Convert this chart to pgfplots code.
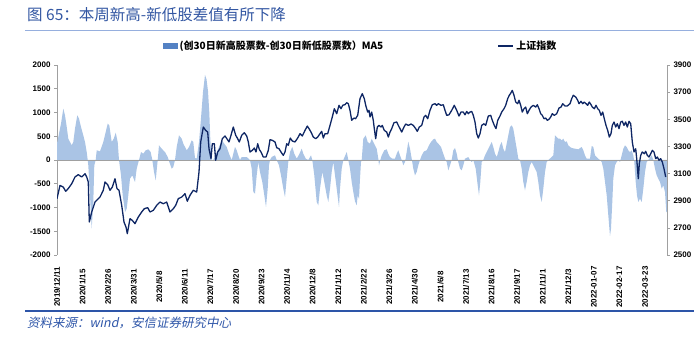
\documentclass[border=0pt]{standalone}
\usepackage{pgfplots}
\pgfplotsset{compat=1.18}
\usepackage{pgfplotstable}
\usepackage{fontspec}
\setmainfont{Liberation Sans}
\newfontfamily\cjk{Noto Sans CJK SC}
\newfontfamily\cjkit[FakeSlant=0.2]{Noto Sans CJK SC}
\definecolor{barblue}{RGB}{170,196,229}
\definecolor{legbar}{RGB}{84,130,196}
\definecolor{linecol}{RGB}{14,38,100}
\definecolor{axgray}{RGB}{160,160,160}
\definecolor{titleblue}{RGB}{50,86,162}
\definecolor{ruleblue}{RGB}{150,175,222}
\definecolor{botrule}{RGB}{45,85,168}

\pgfplotstableread{
x v
0 350
1.3 484
4 765
6.3 1080
8 940
9.7 700
11.3 449
13 379
14.7 309
16.3 379
18 660
20.3 940
22 870
24 695
26.3 519
28 379
29.7 168
30.7 0
31.3 -112
33 -744
34.7 -1445
36.3 -884
37.3 -112
38.7 0
39.7 204
43 182
46.3 379
48.7 589
50.7 765
52.3 730
54.7 379
56.7 449
58.7 575
60.7 379
62 0
64 -323
65.7 -744
68 -1095
69.7 -1025
71.3 -744
73 -393
75.3 -323
78 -463
79.7 -183
82 0
84 168
86.3 133
88.7 204
91.3 225
93.7 168
95.3 0
97 -253
98.7 -428
100.7 0
102 309
104.7 238
108 168
110.7 63
112.3 -42
114.7 -183
116.3 -147
118 0
119.7 274
122 519
124.7 449
126.3 344
129.7 204
132 274
134.7 414
136.3 379
138 40
139.7 30
142 379
143.7 800
146 1431
148 1790
149.5 1700
151 1450
152.3 1000
153.3 449
154.7 0
156.3 0
161.3 238
164.7 414
167.3 344
169.7 274
172 133
174.7 0
178 274
179.7 204
181.3 98
183 0
184.7 63
189.7 63
193 0
194.7 -183
196.3 -674
198 -709
199.7 -323
201.3 -42
203 -253
205.3 -463
207.3 -744
209 -989
210.7 -604
212 -112
213 0
214.7 63
218 98
219.7 0
222 -112
224 -323
226.3 -604
228 -779
229.7 -393
231.3 -42
233 168
235.3 274
237.3 133
239.7 28
242 112
244.7 238
246.3 133
248.7 28
251.3 0
254 98
255.3 0
257.3 -323
259.7 -884
261.3 -954
263 -604
265.3 -253
267.3 -463
269.7 -744
271.3 -884
273 -604
274.7 -253
276.3 -42
278 -323
279.7 -604
282 -989
283 -604
284.7 -183
286.3 0
289.7 168
291.3 0
293 -183
294.7 -463
296.3 -674
298 -870
299.7 -954
300.7 -744
302 -814
303 -393
304 -42
304.7 0
306.3 449
308.7 519
310.7 379
313 344
314.7 449
316.3 379
318 309
319.7 238
321.3 28
322 -112
323.3 0
324.7 98
327.3 204
329.7 225
331.3 133
333 63
335.3 28
338 28
339.7 133
341.3 204
343 98
344.7 0
346.3 -112
348 -42
349.7 168
351.3 386
353 238
354.7 28
356.3 -183
358 -323
359.7 -253
361.3 -112
363 0
364.7 98
367 182
369.7 204
372 309
374 379
376.3 435
378 449
379.7 379
381.3 344
384 274
386.3 133
388 28
389.7 -42
391.3 -218
393 -112
394.7 0
396.3 204
398 253
399.7 133
401.3 -42
403 -183
404.7 -218
406.3 -112
408 28
411.3 63
413 0
414.7 -42
416.3 0
418.7 -183
420.7 -533
422 -744
423.3 -463
424.7 -42
426.3 0
428 98
429.7 168
431.3 238
433 309
434.7 379
436.3 274
438 133
439.7 63
441.3 168
443 309
444.7 379
446.3 238
448 168
449.7 344
451.3 519
453 695
454.7 730
456.3 660
458 449
459.7 238
461.3 28
463 0
464.7 -183
466.3 -463
468 -639
469.7 -463
471.3 -253
473 -112
474.7 -42
476.3 -112
478 -183
479.7 -253
481.3 -463
483 -744
484.7 -884
486.3 -604
488 -253
489.7 -42
491.3 0
494.7 63
496.3 98
498 519
499.7 484
501.3 449
503 449
504.7 414
506.3 449
508 379
509.7 393
511.3 309
513 274
514.7 253
518 238
521.3 225
524.7 274
526.3 204
528 98
529.7 28
533 28
534.7 295
536.3 274
538 98
541.3 28
543 0
544.7 -42
546.3 -183
548 -463
549.7 -744
551.3 -1165
553 -1600
554 -1445
555.3 -884
556.3 -393
558 -112
559.7 -42
561.3 0
563 -42
564.7 98
566.3 238
568 309
569.7 274
571.3 204
573 168
574.7 204
576.3 98
577.3 -42
578.7 -463
580 -744
581.3 -884
583 -814
584.7 -884
586.3 -604
588 -253
589.7 -42
591.3 0
594.7 98
596.3 0
598 -183
599.7 -323
601.3 -393
603 -463
604.7 -604
606.3 -533
608 -674
609.3 -1100
610 -1100
}\barsdata

\pgfplotstableread{
x v
0 2915
3 3013
6.3 3000
8.7 2969
11.3 2990
14.7 3025
18 3075
21.3 3092
24.7 3075
28 3099
29.7 3075
31.3 3038
32.3 2743
34.7 2817
38 2890
43 2927
46.3 2977
48 3038
50.7 3018
53 2977
55.3 3000
58 3062
60 2989
62 2977
64.7 2866
67 2743
69 2706
70.3 2657
73 2768
75.3 2755
78 2731
81.3 2780
84.7 2817
87.3 2841
90.7 2849
93 2817
96.3 2829
99.7 2866
103 2890
106.3 2878
109.7 2890
113 2817
116.3 2841
118.7 2866
121.3 2915
124.7 2927
128 2952
130.3 2896
133 2940
136.3 2977
139.7 2964
142 3111
143.7 3333
146.3 3443
148.7 3418
150.7 3406
152 3283
154 3210
155.3 3320
157.3 3320
158.7 3198
160.7 3259
163 3283
165.3 3357
168 3377
170.3 3352
172 3333
174 3382
176.3 3443
178.7 3382
180.3 3362
182.3 3333
184.7 3382
187.3 3401
189.7 3377
191.3 3333
193 3259
195.3 3271
197.3 3288
199 3259
200.7 3320
202.3 3278
204 3259
206.3 3222
209 3222
211.3 3271
213 3350
215.3 3345
218 3333
219.7 3291
222 3283
224 3259
226.3 3234
228 3259
229.7 3320
231.3 3308
233.3 3362
235.3 3340
238 3333
240.7 3362
243 3394
245.3 3377
248 3418
250.3 3450
252 3431
254 3406
256.3 3369
258.7 3357
260.7 3369
263 3394
264.7 3411
266.3 3362
268 3394
270.7 3394
273 3455
275.3 3517
277.3 3578
279.7 3541
282 3603
284 3578
285.7 3603
288 3608
289.7 3622
291.3 3615
293 3566
294.7 3492
297 3509
298.5 3504
300.7 3529
303 3652
305.3 3689
307.3 3652
308.7 3603
310.7 3553
312 3566
313 3517
314.7 3553
316.3 3492
317.3 3431
318.7 3357
320.3 3443
322 3455
324 3443
325.3 3455
327.3 3418
329.7 3406
331.3 3369
333 3406
334.7 3431
337 3475
339.7 3480
341.3 3455
343 3431
344.7 3406
347 3443
348.7 3465
351.3 3455
354 3465
356.3 3455
358.7 3431
360.3 3411
362.3 3443
364.7 3455
367 3517
368.7 3529
370.7 3504
373 3566
375.3 3607
378 3615
379.7 3603
381.3 3615
384 3603
386.3 3607
388 3566
389.7 3529
392 3533
394.7 3566
397.3 3603
399.7 3566
402 3524
404 3553
406.3 3553
408 3533
409.7 3558
411.3 3541
413 3553
414.7 3558
416.3 3529
418 3480
419.7 3394
421.3 3362
423 3394
424.7 3455
427 3467
428.7 3455
431.3 3524
433.7 3529
435.3 3492
437.3 3455
439 3431
440.7 3492
443 3524
444.7 3553
447 3578
448.7 3603
450.7 3652
452.3 3677
453.5 3689
455.3 3713
457 3677
458.7 3627
460.7 3615
462 3640
463.7 3603
465.3 3553
467 3578
468.7 3590
470.3 3541
472 3566
474 3590
476.3 3603
478.7 3590
480.3 3607
482 3578
483.7 3541
485.3 3529
487 3504
488.7 3509
490.3 3492
492 3500
493.7 3517
495.3 3541
497.3 3529
499.7 3541
502 3583
504 3590
505.7 3615
508 3598
510.3 3598
513 3615
514.7 3652
516.3 3677
518.7 3664
520.7 3640
522 3615
524 3632
525.7 3615
527.3 3627
529 3615
530.7 3603
532.3 3627
534 3608
535.3 3590
537.3 3578
539 3603
540.7 3578
542.3 3566
544 3529
545.7 3553
547.3 3504
549 3455
550.7 3418
552.3 3369
554 3394
555.3 3455
557 3480
558.7 3443
560.3 3467
562 3431
563.7 3480
565.3 3485
567 3455
568.7 3480
570.3 3443
572 3485
573.7 3467
575.3 3333
577 3259
578.7 3283
579.7 3210
581.3 3062
582.3 3173
583.7 3234
585.3 3259
587.3 3246
588.7 3264
590.3 3234
592 3222
593.7 3246
595.3 3271
597 3259
598.7 3210
600.3 3222
602 3198
603.7 3210
605.3 3185
607 3136
608.7 3075
}\shdata

\begin{document}
\begin{tikzpicture}
\useasboundingbox (0,0) rectangle (694pt,337pt);
% title
\node[anchor=west, inner sep=0pt, text=titleblue] at (27pt,322pt)
  {\cjk\fontsize{15.5}{17}\selectfont 图 65：本周新高-新低股差值有所下降};
\draw[ruleblue, line width=0.7pt] (25pt,307pt) -- (694pt,307pt);
% bottom rule and source
\draw[botrule, line width=1.3pt] (25pt,26pt) -- (694pt,26pt);
\node[anchor=west, inner sep=0pt, text=botrule] at (27pt,14pt)
  {\cjkit\fontsize{12.5}{14}\selectfont 资料来源：wind，安信证券研究中心};

\begin{axis}[
  at={(57pt,82pt)}, anchor=south west,
  width=610pt, height=190pt, scale only axis,
  xmin=0, xmax=610, ymin=-2000, ymax=2000,
  axis y line*=left, axis x line*=bottom,
  x axis line style={draw=none},
  x tick style={draw=none},
  y axis line style={axgray, line width=0.7pt},
  y tick style={axgray, line width=0.7pt},
  tick align=outside, major tick length=3pt,
  ytick={-2000,-1500,...,2000},
  xtick={0,25.57,51.13,76.7,102.26,127.83,153.39,178.96,204.52,230.09,255.65,281.22,306.78,332.35,357.91,383.48,409.04,434.61,460.17,485.74,511.3,536.87,562.43,588},
  xticklabels={2019/12/11,2020/1/15,2020/2/26,2020/3/31,2020/5/8,2020/6/11,2020/7/17,2020/8/20,2020/9/23,2020/11/4,2020/12/8,2021/1/12,2021/2/22,2021/3/26,2021/4/30,2021/6/8,2021/7/13,2021/8/16,2021/9/17,2021/11/1,2021/12/3,2022-01-07,2022-02-17,2022-03-23},
  xticklabel style={yshift=-29pt, rotate=90, anchor=center, font=\fontsize{8}{9}\selectfont\bfseries},
  yticklabel style={font=\fontsize{8}{9}\selectfont\bfseries},
  /pgf/number format/assume math mode=true,
  scaled y ticks=false,
  yticklabel={\pgfmathprintnumber[fixed,precision=0,1000 sep={}]{\tick}},
]
\addplot[fill=barblue, draw=none] table[x=x,y=v] {\barsdata} \closedcycle;
\addplot[axgray, line width=0.9pt] coordinates {(0,0) (610,0)};
\end{axis}

\begin{axis}[
  at={(57pt,82pt)}, anchor=south west,
  width=610pt, height=190pt, scale only axis,
  xmin=0, xmax=610, ymin=2500, ymax=3900,
  axis y line*=right, axis x line=none,
  y axis line style={axgray, line width=0.7pt},
  y tick style={axgray, line width=0.7pt},
  tick align=outside, major tick length=3pt,
  ytick={2500,2700,...,3900},
  yticklabel style={font=\fontsize{8}{9}\selectfont\bfseries},
  /pgf/number format/assume math mode=true,
  yticklabel={\pgfmathprintnumber[fixed,precision=0,1000 sep={}]{\tick}},
  legend columns=2,
  legend cell align=left,
  legend style={at={(0.1738,1.1)}, anchor=west, draw=none, fill=none, inner sep=0pt,
    font=\cjk\fontsize{10}{12}\selectfont\bfseries,
    /tikz/every even column/.append style={column sep=112pt}},
]
\addlegendimage{legend image code/.code={\fill[legbar] (0pt,-2.5pt) rectangle (14pt,2.5pt);}}
\addlegendentry{(创30日新高股票数-创30日新低股票数）MA5}
\addplot[linecol, line width=1.3pt, line join=round,
  legend image code/.code={\draw[linecol, line width=2pt] (0pt,0pt) -- (15pt,0pt);}]
  table[x=x,y=v] {\shdata};
\addlegendentry{上证指数}
\end{axis}
\end{tikzpicture}
\end{document}
